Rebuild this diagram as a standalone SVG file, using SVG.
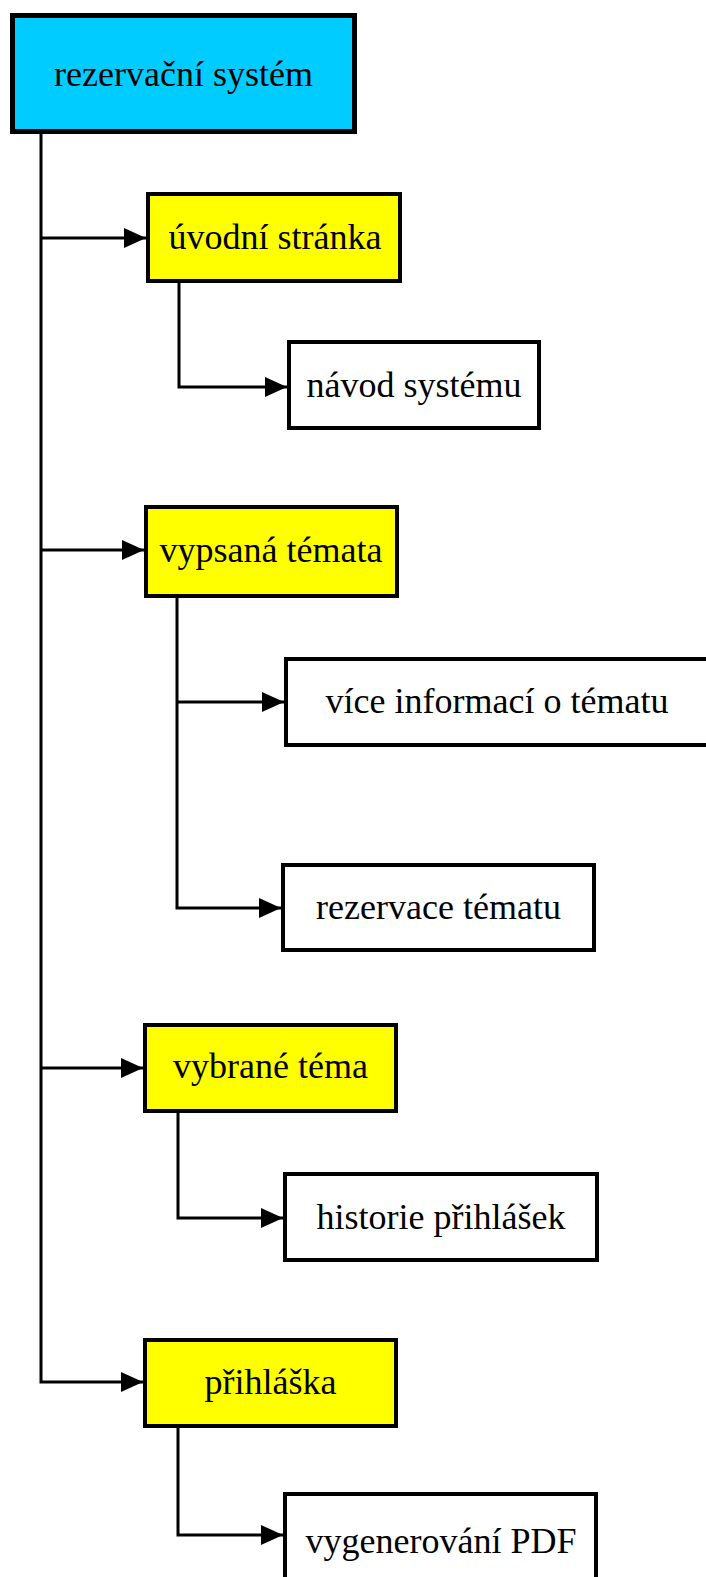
<svg xmlns="http://www.w3.org/2000/svg" width="706" height="1577" viewBox="0 0 706 1577">
  <style>
    .box { stroke: #000; stroke-width: 4; }
    .root { fill: #00CCFF; stroke-width: 5; }
    .main { fill: #FFFF00; }
    .leaf { fill: #FFFFFF; }
    .lbl { font-family: "Liberation Serif", "Times New Roman", serif; font-size: 36px; fill: #000; text-anchor: middle; }
    .wire { fill: none; stroke: #000; stroke-width: 3; marker-end: url(#arrow); }
  </style>
  <defs>
    <marker id="arrow" viewBox="0 0 22 20" refX="22" refY="10" markerWidth="22" markerHeight="20" markerUnits="userSpaceOnUse" orient="auto">
      <path d="M0 0 L22 10 L0 20 Z" fill="#000"/>
    </marker>
  </defs>
  <rect width="706" height="1577" fill="#FFFFFF"/>

  <!-- connectors -->
  <g id="connectors">
    <path class="wire" d="M41 134 V1382 H143"/>
    <path class="wire" d="M41 238 H146"/>
    <path class="wire" d="M41 550 H144"/>
    <path class="wire" d="M41 1068 H143"/>
    <path class="wire" d="M179 283 V387 H287"/>
    <path class="wire" d="M177 598 V908 H281"/>
    <path class="wire" d="M177 702 H284"/>
    <path class="wire" d="M178 1113 V1218 H283"/>
    <path class="wire" d="M178 1428 V1535 H283"/>
  </g>

  <g id="rezervacni-system">
    <rect class="box root" x="12.5" y="15.5" width="342" height="116"/>
    <text class="lbl" x="183.5" y="86">rezervační systém</text>
  </g>

  <g id="uvodni-stranka">
    <rect class="box main" x="148" y="194" width="252" height="87"/>
    <text class="lbl" x="275" y="249">úvodní stránka</text>
  </g>

  <g id="navod-systemu">
    <rect class="box leaf" x="289" y="342" width="250" height="86"/>
    <text class="lbl" x="414" y="397">návod systému</text>
  </g>

  <g id="vypsana-temata">
    <rect class="box main" x="146" y="507" width="251" height="89"/>
    <text class="lbl" x="271" y="562">vypsaná témata</text>
  </g>

  <g id="vice-informaci">
    <rect class="box leaf" x="286" y="659" width="430" height="86"/>
    <text class="lbl" x="497" y="713">více informací o tématu</text>
  </g>

  <g id="rezervace-tematu">
    <rect class="box leaf" x="283" y="865" width="311" height="85"/>
    <text class="lbl" x="438.5" y="919">rezervace tématu</text>
  </g>

  <g id="vybrane-tema">
    <rect class="box main" x="145" y="1025" width="251" height="86"/>
    <text class="lbl" x="270.5" y="1078">vybrané téma</text>
  </g>

  <g id="historie-prihlasek">
    <rect class="box leaf" x="285" y="1174" width="312" height="86"/>
    <text class="lbl" x="441" y="1229">historie přihlášek</text>
  </g>

  <g id="prihlaska">
    <rect class="box main" x="145" y="1340" width="251" height="86"/>
    <text class="lbl" x="270.5" y="1394">přihláška</text>
  </g>

  <g id="vygenerovani-pdf">
    <rect class="box leaf" x="285" y="1494" width="311" height="120"/>
    <text class="lbl" x="441" y="1553">vygenerování PDF</text>
  </g>
</svg>
